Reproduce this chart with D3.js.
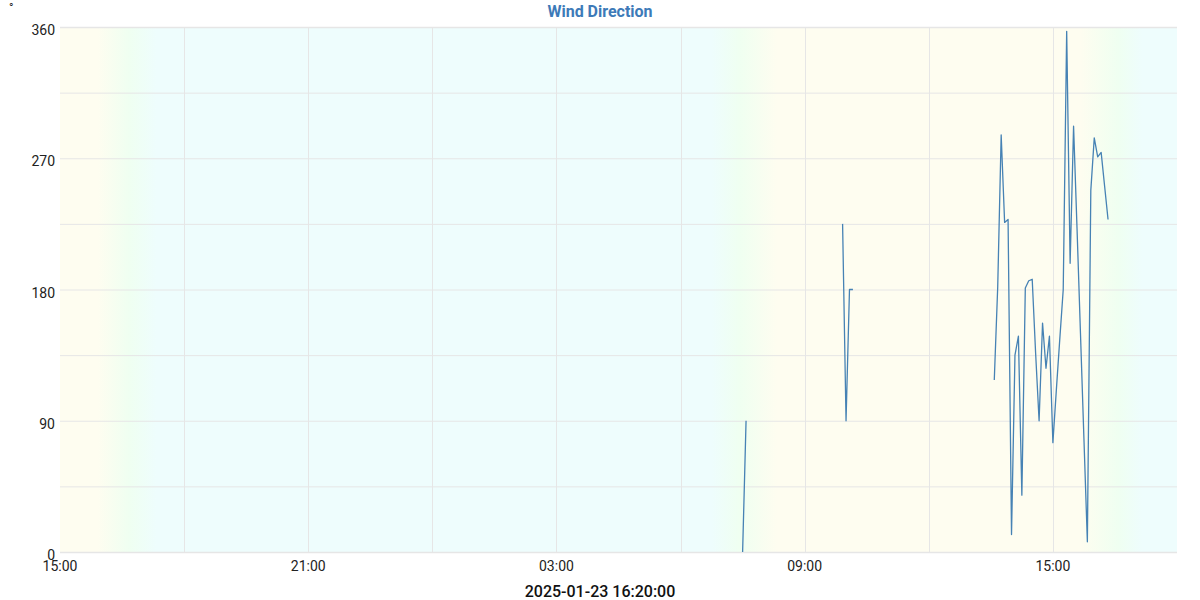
<!DOCTYPE html>
<html>
<head>
<meta charset="utf-8">
<script src="https://cdn.jsdelivr.net/npm/d3@7"></script>
<style>
  html, body { margin: 0; padding: 0; background: #fff; }
  svg { display: block; font-family: Roboto, "Noto Sans", sans-serif; }
</style>
</head>
<body>
<svg id="chart" width="1200" height="600"></svg>
<script>
// ---- data ----
const chartTitle = "Wind Direction";
const unitLabel = "°";
const footerLabel = "2025-01-23 16:20:00";
const domainStart = "2025-01-22 15:00";
const domainEnd = "2025-01-23 18:00";

const times = [
  "2025-01-23 07:30", "2025-01-23 07:35", "2025-01-23 07:40",
  "2025-01-23 09:55", "2025-01-23 10:00", "2025-01-23 10:05", "2025-01-23 10:10", "2025-01-23 10:15",
  "2025-01-23 13:35", "2025-01-23 13:40", "2025-01-23 13:45", "2025-01-23 13:50", "2025-01-23 13:55",
  "2025-01-23 14:00", "2025-01-23 14:05", "2025-01-23 14:10", "2025-01-23 14:15", "2025-01-23 14:20",
  "2025-01-23 14:25", "2025-01-23 14:30", "2025-01-23 14:35", "2025-01-23 14:40", "2025-01-23 14:45",
  "2025-01-23 14:50", "2025-01-23 14:55", "2025-01-23 15:00", "2025-01-23 15:05", "2025-01-23 15:10",
  "2025-01-23 15:15", "2025-01-23 15:20", "2025-01-23 15:25", "2025-01-23 15:30", "2025-01-23 15:35",
  "2025-01-23 15:40", "2025-01-23 15:45", "2025-01-23 15:50", "2025-01-23 15:55", "2025-01-23 16:00",
  "2025-01-23 16:05", "2025-01-23 16:10", "2025-01-23 16:15", "2025-01-23 16:20"
];
const windDir = [
  0, 90, null,
  225, 90, 180, 180, null,
  118, 182, 286, 226, 228,
  12, 135, 148, 39, 181,
  186, 187, 136, 90, 157,
  126, 148, 75, 111, 146,
  180, 357, 198, 292, 222,
  150, 78, 7, 248, 284,
  271, 274, 251, 228
];

const yTicks = [0, 90, 180, 270, 360];
const yGrid = [0, 45, 90, 135, 180, 225, 270, 315, 360];
const xTickLabels = ["15:00", "21:00", "03:00", "09:00", "15:00"];

// day / night background bands
const sunTimes = [
  "2025-01-22 15:00", "2025-01-22 15:55", "2025-01-22 16:40", "2025-01-22 17:20",
  "2025-01-23 06:45", "2025-01-23 07:25", "2025-01-23 08:20",
  "2025-01-23 15:40", "2025-01-23 16:35", "2025-01-23 17:10", "2025-01-23 18:00"
];
const sunPhase = ["day", "day", "dusk", "night", "night", "dusk", "day", "day", "dusk", "night", "night"];

// ---- drawing ----
const parse = d3.utcParse("%Y-%m-%d %H:%M");
const W = 1200, H = 600;
const m = { left: 60, right: 23, top: 27, bottom: 48 };
const svg = d3.select("#chart");

const t0 = parse(domainStart);
const x = d3.scaleUtc()
  .domain([t0, parse(domainEnd)])
  .range([m.left, W - m.right]);
const y = d3.scaleLinear().domain([0, 360]).range([H - m.bottom, m.top]);

const phaseColor = { day: "#fefdf0", dusk: "#effff1", night: "#eefdfd" };

const defs = svg.append("defs");
const grad = defs.append("linearGradient")
  .attr("id", "bg").attr("gradientUnits", "userSpaceOnUse")
  .attr("x1", x.range()[0]).attr("x2", x.range()[1]).attr("y1", 0).attr("y2", 0);
sunTimes.forEach((t, i) => {
  const off = (x(parse(t)) - x.range()[0]) / (x.range()[1] - x.range()[0]);
  grad.append("stop").attr("offset", off).attr("stop-color", phaseColor[sunPhase[i]]);
});

svg.append("rect")
  .attr("x", x.range()[0]).attr("y", y(360))
  .attr("width", x.range()[1] - x.range()[0]).attr("height", y(0) - y(360))
  .attr("fill", "url(#bg)");

// grid
svg.append("g").selectAll("line").data(yGrid).join("line")
  .attr("x1", x.range()[0]).attr("x2", x.range()[1])
  .attr("y1", d => y(d) + 0.5).attr("y2", d => y(d) + 0.5)
  .attr("stroke", "#e6e6e6").attr("stroke-width", d => (d === 360 || d === 0) ? 1.5 : 1);

const threeHourTicks = d3.utcHour.range(t0, x.domain()[1], 3);
const xGridTicks = threeHourTicks.filter(d => x(d) > x.range()[0] + 1 && x(d) < x.range()[1] - 1);
svg.append("g").selectAll("line").data(xGridTicks).join("line")
  .attr("x1", d => Math.round(x(d)) + 0.5).attr("x2", d => Math.round(x(d)) + 0.5)
  .attr("y1", y(360)).attr("y2", y(0))
  .attr("stroke", "#e6e6e6").attr("stroke-width", 1);

// y labels
svg.append("g").selectAll("text").data(yTicks).join("text")
  .attr("x", 55).attr("y", d => y(d) + 8)
  .attr("text-anchor", "end").attr("font-size", 14).attr("fill", "#222")
  .text(d => d);

// x labels (every 6 hours from start)
const xLabelTicks = d3.utcHour.range(t0, x.domain()[1], 6).slice(0, xTickLabels.length);
svg.append("g").selectAll("text").data(xLabelTicks).join("text")
  .attr("x", d => x(d)).attr("y", 571)
  .attr("text-anchor", "middle").attr("font-size", 14).attr("fill", "#222")
  .text((d, i) => xTickLabels[i]);

// line
const pts = times.map((t, i) => ({ t: parse(t), v: windDir[i] }));
const line = d3.line().defined(d => d.v !== null).x(d => x(d.t)).y(d => y(d.v));
svg.append("path").datum(pts)
  .attr("d", line).attr("fill", "none")
  .attr("stroke", "#4682b4").attr("stroke-width", 1.3).attr("stroke-linejoin", "round");

// texts
svg.append("text").attr("x", 600).attr("y", 17).attr("text-anchor", "middle")
  .attr("font-size", 16).attr("font-weight", "bold").attr("fill", "#3d7ab8")
  .text(chartTitle);
svg.append("text").attr("x", 9).attr("y", 12).attr("font-size", 12).attr("fill", "#222")
  .text(unitLabel);
svg.append("text").attr("x", 600).attr("y", 597).attr("text-anchor", "middle")
  .attr("font-size", 16).attr("font-weight", 500).attr("fill", "#111")
  .text(footerLabel);
</script>
</body>
</html>
